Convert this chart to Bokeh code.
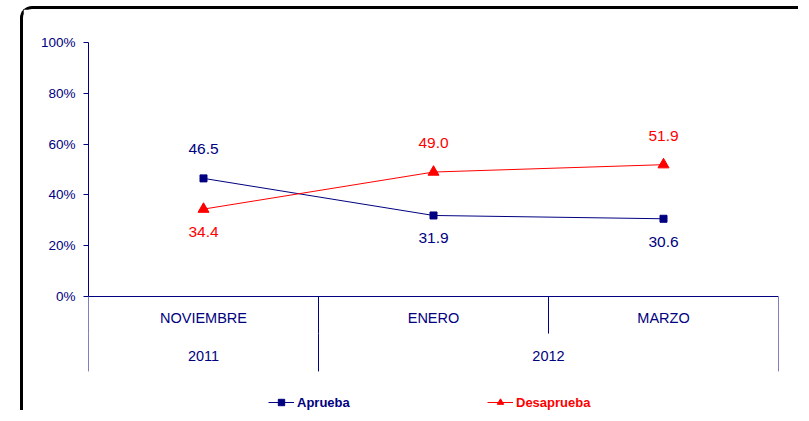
from bokeh.plotting import figure
from bokeh.models import (Range1d, FixedTicker, PrintfTickFormatter, ColumnDataSource,
                          Legend, LegendItem)
from bokeh.core.properties import value
from bokeh.embed import file_html
from bokeh.resources import INLINE

# ---- data ----
months = ["NOVIEMBRE", "ENERO", "MARZO"]
years = ["2011", "2012", "2012"]
aprueba = [46.5, 31.9, 30.6]
desaprueba = [34.4, 49.0, 51.9]
y_ticks = [0, 20, 40, 60, 80, 100]

NAVY = "#000080"
RED = "#FF0000"
FONT = "Liberation Sans"

# canvas sits inside a rounded top/left border starting at (20, 6)
OFF_X, OFF_Y, BW = 20, 6, 3
PAGE_W, PAGE_H = 801, 413
W, H = PAGE_W - OFF_X - BW, PAGE_H - OFF_Y - BW
n = len(months)
xs = [i + 0.5 for i in range(n)]

TOP_PX, ZERO_PX, RIGHT_PX = 42, 296, 778   # pixel rows of 100% / 0%, right plot edge
ppu = (ZERO_PX - TOP_PX) / 100.0
y_start = 100 - (PAGE_H - TOP_PX) / ppu

p = figure(width=W, height=H, output_backend="svg", toolbar_location=None, tools="",
           x_range=Range1d(0, n), y_range=Range1d(y_start, 100),
           x_axis_location=None,
           min_border_left=88 - OFF_X - BW, min_border_right=PAGE_W - RIGHT_PX,
           min_border_top=TOP_PX - OFF_Y - BW, min_border_bottom=0)
p.styles = {"margin-left": f"{OFF_X}px", "margin-top": f"{OFF_Y}px",
            "border-left": f"{BW}px solid black", "border-top": f"{BW}px solid black",
            "border-top-left-radius": "12px"}
p.outline_line_color = None
p.grid.visible = False
p.background_fill_color = "white"
p.border_fill_color = "white"

# y axis
ya = p.yaxis[0]
ya.bounds = (0, 100)
ya.ticker = FixedTicker(ticks=y_ticks, minor_ticks=[])
ya.formatter = PrintfTickFormatter(format="%d%%")
ya.axis_line_color = NAVY
ya.major_tick_line_color = NAVY
ya.major_tick_out = 5
ya.major_tick_in = 0
ya.minor_tick_line_color = None
ya.major_label_text_color = NAVY
ya.major_label_text_font = FONT
ya.major_label_text_font_size = "13.5px"
ya.major_label_standoff = 8

# category axis (drawn through the data scales)
MONTH_Y, YEAR_Y = -8.66, -23.6
MID_Y, BOT_Y = -14.6, -29.5
p.segment(x0=[0], y0=[0], x1=[n], y1=[0], line_color=NAVY, line_width=1)
p.segment(x0=list(range(n + 1)), y0=[0] * (n + 1), x1=list(range(n + 1)), y1=[MID_Y] * (n + 1),
          line_color=NAVY, line_width=1)
groups = []
start = 0
for i in range(1, n + 1):
    if i == n or years[i] != years[start]:
        groups.append((years[start], start, i))
        start = i
bounds = sorted(set([g[1] for g in groups] + [g[2] for g in groups]))
p.segment(x0=bounds, y0=[MID_Y] * len(bounds), x1=bounds, y1=[BOT_Y] * len(bounds),
          line_color=NAVY, line_width=1)
p.text(x=xs, y=[MONTH_Y] * n, text=months, text_align="center", text_baseline="middle",
       text_font=value(FONT), text_font_size="14.5px", text_color=NAVY)
p.text(x=[(g[1] + g[2]) / 2 for g in groups], y=[YEAR_Y] * len(groups), text=[g[0] for g in groups],
       text_align="center", text_baseline="middle",
       text_font=value(FONT), text_font_size="14.5px", text_color=NAVY)

# series
la = p.line(xs, aprueba, line_color=NAVY, line_width=1)
sa = p.scatter(xs, aprueba, marker="square", size=7, fill_color=NAVY, line_color=NAVY)
ld = p.line(xs, desaprueba, line_color=RED, line_width=1)
sd = p.scatter(xs, desaprueba, marker="triangle", size=11, fill_color=RED, line_color=RED)

# data labels
ABOVE, BELOW = -29, 23
def labels(vals, other, color):
    src = ColumnDataSource(dict(
        x=xs, y=vals, t=["%.1f" % v for v in vals],
        off=[ABOVE if v > o else BELOW for v, o in zip(vals, other)]))
    p.text(x="x", y="y", text="t", y_offset="off", source=src, text_align="center",
           text_baseline="middle", text_font=value(FONT), text_font_size="15.5px",
           text_color=color)
labels(aprueba, desaprueba, NAVY)
labels(desaprueba, aprueba, RED)

# legends
def make_legend(label, rends, color, loc):
    leg = Legend(items=[LegendItem(label=label, renderers=rends)], location=loc,
                 orientation="horizontal", background_fill_alpha=0, border_line_alpha=0,
                 padding=0, margin=0, glyph_width=26, glyph_height=16, label_height=14,
                 label_standoff=3, label_text_font=FONT, label_text_font_size="13px",
                 label_text_font_style="bold", label_text_color=color)
    p.add_layout(leg, "center")
make_legend("Aprueba", [la, sa], NAVY, (180, 3))
make_legend("Desaprueba", [ld, sd], RED, (399, 3))

open("out.html", "w").write(file_html(p, INLINE))
